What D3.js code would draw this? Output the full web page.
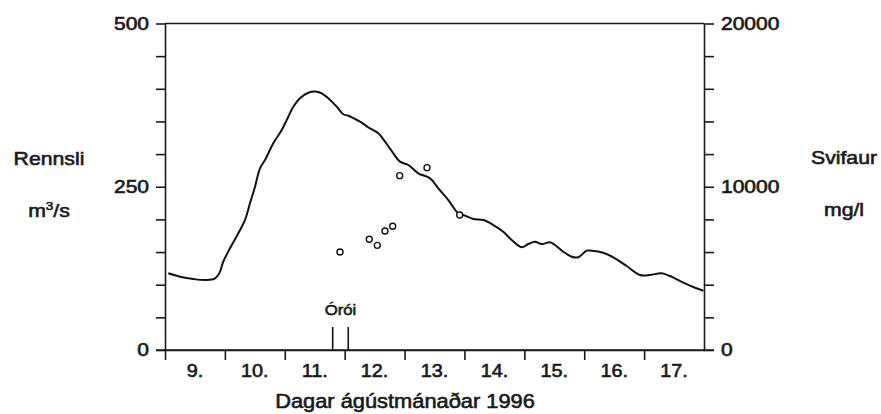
<!DOCTYPE html>
<html>
<head>
<meta charset="utf-8">
<script src="https://cdn.jsdelivr.net/npm/d3@7"></script>
<style>
  body { margin: 0; background: #fff; }
  svg text { font-family: "Liberation Sans", Arial, sans-serif; fill: #1a1a1a;
             stroke: #1a1a1a; stroke-width: 0.6px; }
  .domain, .tick line { stroke: #1a1a1a; stroke-width: 1.6px; }
</style>
</head>
<body>
<script>
// Rennsli (m3/s) - discharge curve, [day, value]
const flowDays = [9.055, 9.25, 9.473, 9.696, 9.835, 9.907, 9.973, 10.085, 10.224, 10.336,
  10.419, 10.503, 10.586, 10.67, 10.808, 10.949, 11.059, 11.142, 11.254, 11.393,
  11.533, 11.617, 11.727, 11.867, 11.977, 12.061, 12.256, 12.423, 12.562, 12.674,
  12.813, 12.924, 13.063, 13.23, 13.426, 13.564, 13.731, 13.898, 14.009, 14.149,
  14.316, 14.483, 14.649, 14.789, 14.956, 15.066, 15.178, 15.29, 15.428, 15.512,
  15.65, 15.791, 15.901, 16.041, 16.125, 16.318, 16.485, 16.709, 16.931, 17.098,
  17.293, 17.432, 17.654, 17.85, 17.989];
const flowValues = [117.5, 112.3, 108.7, 107.2, 109.8, 117.5, 135.2, 155.7, 178.7, 199.1,
  224.7, 250.1, 278.3, 291.0, 316.5, 336.9, 357.3, 372.6, 385.5, 394.0,
  395.6, 393.1, 385.5, 372.6, 361.0, 358.8, 349.6, 339.5, 331.9, 319.0,
  301.2, 288.4, 283.3, 270.6, 262.9, 247.6, 229.7, 209.3, 205.7, 200.6,
  199.1, 191.4, 181.2, 168.5, 157.3, 162.3, 165.8, 162.3, 164.9, 160.8,
  150.5, 142.9, 142.0, 152.1, 152.1, 149.0, 142.0, 128.6, 114.9, 114.9,
  117.5, 113.3, 103.1, 95.4, 90.8];

// Svifaur (mg/l) - sediment samples
const sedDays = [11.922, 12.411, 12.545, 12.673, 12.802, 12.919, 13.375, 13.921];
const sedValues = [6000, 6780, 6410, 7290, 7580, 10680, 11170, 8270];

// Órói (unrest) markers
const unrestDays = [11.8, 12.06];

const dayLabels = ["9.", "10.", "11.", "12.", "13.", "14.", "15.", "16.", "17."];
const dayTicks = [9, 10, 11, 12, 13, 14, 15, 16, 17];
const flowTicks = d3.range(0, 501, 50);
const sedTicks = d3.range(0, 20001, 2000);

const W = 881, H = 414;
const margin = {top: 23.5, right: 177, bottom: 64, left: 165};

const svg = d3.select("body").append("svg")
  .attr("width", W).attr("height", H);

const x = d3.scaleLinear().domain([9, 18]).range([margin.left, W - margin.right]);
const yL = d3.scaleLinear().domain([0, 500]).range([H - margin.bottom, margin.top]);
const yR = d3.scaleLinear().domain([0, 20000]).range([H - margin.bottom, margin.top]);

// stretched label helper (the original type is wide)
function label(txt, px, py, anchor, size, sx) {
  return svg.append("text")
    .attr("transform", `translate(${px},${py}) scale(${sx},1)`)
    .attr("text-anchor", anchor)
    .attr("font-size", size)
    .text(txt);
}

// Left axis
svg.append("g")
  .attr("transform", `translate(${margin.left},0)`)
  .call(d3.axisLeft(yL).tickValues(flowTicks).tickSize(9).tickSizeOuter(0).tickFormat(""));

// Right axis
svg.append("g")
  .attr("transform", `translate(${W - margin.right},0)`)
  .call(d3.axisRight(yR).tickValues(sedTicks).tickSize(10).tickSizeOuter(0).tickFormat(""));

// Bottom axis
svg.append("g")
  .attr("transform", `translate(0,${yL(0)})`)
  .call(d3.axisBottom(x).tickValues(dayTicks).tickSize(10).tickSizeOuter(0).tickFormat(""));

// Top frame line
svg.append("line")
  .attr("x1", x(9)).attr("x2", x(18))
  .attr("y1", yL(500)).attr("y2", yL(500))
  .attr("stroke", "#1a1a1a").attr("stroke-width", 1.6);

// extend frame corners out to the first ticks
svg.append("line")
  .attr("x1", x(9) - 9).attr("x2", x(18) + 10)
  .attr("y1", yL(0)).attr("y2", yL(0))
  .attr("stroke", "#1a1a1a").attr("stroke-width", 1.6);

// y tick labels
[0, 250, 500].forEach(v => label(v, margin.left - 16, yL(v) + 6, "end", 17.5, 1.2));
[0, 10000, 20000].forEach(v => label(v, W - margin.right + 17, yR(v) + 6, "start", 17.5, 1.2));

// day labels, centred between ticks
dayLabels.forEach((d, i) => label(d, x(dayTicks[i] + 0.5), yL(0) + 27, "middle", 18, 1.1));

// axis titles
label("Dagar ágústmánaðar 1996", 405, 408, "middle", 19.5, 1.12);
label("Rennsli", 49, 165, "middle", 18, 1.18);
const m3 = label("m", 49, 217, "middle", 18, 1.18);
m3.text("");
m3.append("tspan").text("m");
m3.append("tspan").attr("font-size", 11.5).attr("dy", -7).text("3");
m3.append("tspan").attr("dy", 7).text("/s");
label("Svifaur", 844, 164, "middle", 18, 1.18);
label("mg/l", 844, 216, "middle", 18, 1.18);

// flow line
const flowData = flowDays.map((d, i) => [d, flowValues[i]]);
svg.append("path")
  .datum(flowData)
  .attr("fill", "none")
  .attr("stroke", "#111")
  .attr("stroke-width", 2)
  .attr("stroke-linejoin", "round")
  .attr("d", d3.line().x(d => x(d[0])).y(d => yL(d[1])).curve(d3.curveCatmullRom));

// sediment samples
svg.selectAll("circle.sed")
  .data(sedDays.map((d, i) => [d, sedValues[i]]))
  .join("circle")
  .attr("class", "sed")
  .attr("cx", d => x(d[0]))
  .attr("cy", d => yR(d[1]))
  .attr("r", 3)
  .attr("fill", "#fff")
  .attr("stroke", "#111")
  .attr("stroke-width", 1.4);

// unrest markers
svg.selectAll("line.unrest")
  .data(unrestDays)
  .join("line")
  .attr("class", "unrest")
  .attr("x1", d => x(d)).attr("x2", d => x(d))
  .attr("y1", yL(0)).attr("y2", yL(0) - 23)
  .attr("stroke", "#111").attr("stroke-width", 1.6);
label("Órói", x(d3.mean(unrestDays)), yL(0) - 35, "middle", 15.5, 1.08);
</script>
</body>
</html>
